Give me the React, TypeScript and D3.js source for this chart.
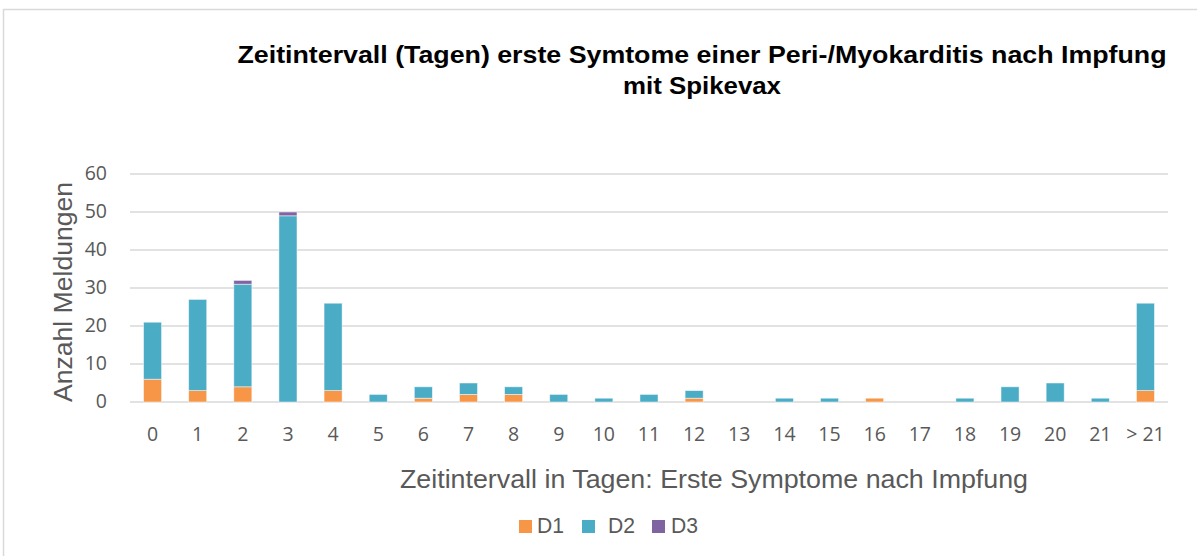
import React from "react";
import * as d3 from "d3";

const categories = ["0","1","2","3","4","5","6","7","8","9","10","11","12","13","14","15","16","17","18","19","20","21","> 21"];
const d1 = [6,3,4,0,3,0,1,2,2,0,0,0,1,0,0,0,1,0,0,0,0,0,3];
const d2 = [15,24,27,49,23,2,3,3,2,2,1,2,2,0,1,1,0,0,1,4,5,1,23];
const d3v = [0,0,1,1,0,0,0,0,0,0,0,0,0,0,0,0,0,0,0,0,0,0,0];
const seriesNames = ["D1","D2","D3"];
const colors = ["#f79646","#4bacc6","#8064a2"];
const yTicks = [0,10,20,30,40,50,60];

export default function App() {
  const W = 1197, H = 556;
  const x = d3.scaleBand().domain(categories).range([130, 1168]).paddingInner(0.6).paddingOuter(0.3);
  const y = d3.scaleLinear().domain([0, 60]).range([402, 174]);
  const rows = categories.map((c, i) => ({ cat: c, D1: d1[i], D2: d2[i], D3: d3v[i] }));
  const stack = d3.stack<any>().keys(seriesNames)(rows);
  const font = "'Liberation Sans', Arial, sans-serif";
  const tickFont = "'Open Sans', 'Noto Sans', sans-serif";
  return (
    <svg width={W} height={H} style={{ position: "absolute", left: 0, top: 0 }}>
      <rect x={0} y={0} width={W} height={H} fill="#fff" />
      <rect x={3.5} y={9.5} width={W + 10} height={H + 10} fill="none" stroke="#d9d9d9" strokeWidth={1.5} />
      <text x={702} y={63} textAnchor="middle" fontFamily={font} fontWeight="bold" fontSize={24} fill="#000" textLength={929} lengthAdjust="spacingAndGlyphs">Zeitintervall (Tagen) erste Symtome einer Peri-/Myokarditis nach Impfung</text>
      <text x={702} y={94} textAnchor="middle" fontFamily={font} fontWeight="bold" fontSize={24} fill="#000" textLength={158} lengthAdjust="spacingAndGlyphs">mit Spikevax</text>
      {yTicks.map(t => (
        <g key={t}>
          <line x1={130} x2={1168} y1={y(t)} y2={y(t)} stroke="#d9d9d9" strokeWidth={1.5} />
          <text x={107} y={y(t) + 6} textAnchor="end" fontFamily={tickFont} fontSize={19.5} fill="#595959">{t}</text>
        </g>
      ))}
      {stack.map((s, si) => (
        <g key={si} fill={colors[si]}>
          {s.map((d, i) => d[1] - d[0] > 0 ? (
            <rect key={i} x={x(categories[i])!} width={x.bandwidth()} y={y(d[1])} height={y(d[0]) - y(d[1])} stroke="#ffffff" strokeOpacity={0.6} strokeWidth={0.8} />
          ) : null)}
        </g>
      ))}
      {categories.map(c => (
        <text key={c} x={x(c)! + x.bandwidth() / 2} y={441} textAnchor="middle" fontFamily={tickFont} fontSize={19.5} fill="#595959">{c}</text>
      ))}
      <text transform="translate(72,292) rotate(-90)" textAnchor="middle" fontFamily={font} fontSize={25} fill="#595959" textLength={220} lengthAdjust="spacingAndGlyphs">Anzahl Meldungen</text>
      <text x={714} y={488} textAnchor="middle" fontFamily={font} fontSize={25} fill="#595959" textLength={628} lengthAdjust="spacingAndGlyphs">Zeitintervall in Tagen: Erste Symptome nach Impfung</text>
      {seriesNames.map((n, i) => {
        const lx = [519, 582, 652][i];
        const tx = [537, 608, 671][i];
        return (
          <g key={n}>
            <rect x={lx} y={520} width={13} height={13} fill={colors[i]} />
            <text x={tx} y={533} fontFamily={font} fontSize={22} fill="#595959" textLength={27} lengthAdjust="spacingAndGlyphs">{n}</text>
          </g>
        );
      })}
    </svg>
  );
}
